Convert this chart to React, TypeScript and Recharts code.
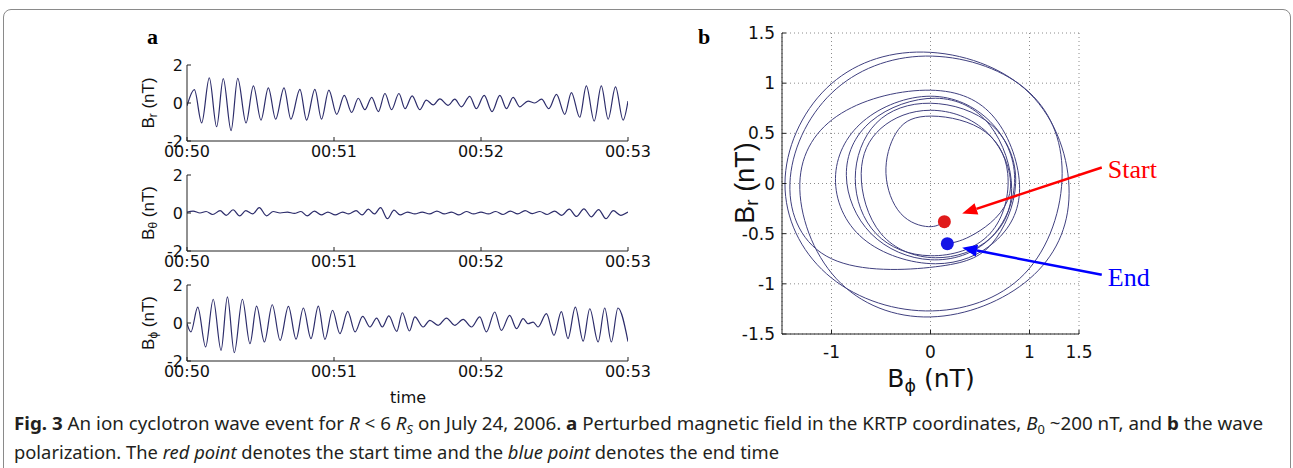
import React from "react";
import {
  LineChart,
  Line,
  XAxis,
  YAxis,
  CartesianGrid,
  ReferenceLine,
  ReferenceDot,
} from "recharts";

// panel a: wave extrema, seconds after 00:50
const brTime = [0, 3.0, 6.0, 9.1, 12.1, 14.8, 18.0, 20.7, 24.1, 27.1, 30.2, 33.2, 36.2, 39.6, 42.4, 46.1, 48.8, 52.2, 54.9, 57.9, 61.1, 64.2, 67.2, 69.9, 72.6, 75.4, 78.1, 80.8, 83.5, 86.5, 89.0, 91.9, 95.0, 97.7, 100.5, 103.2, 106.6, 109.3, 112.0, 115.4, 118.1, 121.3, 124.5, 127.7, 130.4, 133.1, 135.8, 139.2, 141.9, 144.7, 147.7, 150.8, 154.2, 156.9, 160.3, 163.0, 166.2, 169.1, 171.9, 174.9, 178.0, 180];
const brValue = [-0.15, 0.7, -1.05, 1.32, -1.25, 1.28, -1.45, 1.3, -1.05, 0.9, -0.9, 0.8, -0.85, 0.8, -0.85, 0.72, -0.9, 0.72, -0.85, 0.68, -0.6, 0.4, -0.5, 0.25, -0.35, 0.3, -0.45, 0.5, -0.35, 0.5, -0.3, 0.38, -0.35, 0.15, -0.1, 0.22, -0.12, 0.2, -0.2, 0.35, -0.3, 0.4, -0.45, 0.4, -0.3, 0.3, -0.2, 0.1, 0.0, 0.2, -0.3, 0.45, -0.6, 0.55, -0.75, 0.9, -0.95, 0.9, -0.85, 0.85, -0.9, 0.1];

const bthTime = [0, 2.5, 5.3, 7.8, 10.5, 13.5, 16.0, 18.8, 21.5, 24.0, 26.8, 29.5, 32.5, 35.2, 38.0, 41.0, 43.8, 46.5, 49.0, 52.0, 54.8, 57.5, 60.5, 63.5, 66.0, 69.0, 71.5, 74.0, 76.5, 79.0, 81.8, 84.5, 87.0, 90, 93, 96, 99, 102, 105, 108, 111, 114, 117, 120, 123, 126, 129, 132, 135, 138, 141, 144, 147, 150, 153, 156, 159, 162, 165, 168, 171, 174, 177, 180];
const bthValue = [0.05, 0.1, 0.0, 0.08, -0.08, 0.12, -0.12, 0.17, -0.15, 0.12, -0.05, 0.28, -0.15, 0.08, 0.0, 0.05, -0.02, 0.08, -0.15, 0.1, -0.1, 0.05, -0.1, 0.05, -0.05, 0.12, -0.1, 0.2, -0.05, 0.28, -0.3, 0.15, -0.1, 0.05, -0.05, 0.05, -0.05, 0.1, -0.05, 0.05, -0.1, 0.08, -0.05, 0.05, -0.05, 0.08, -0.08, 0.1, -0.05, 0.12, -0.03, 0.08, -0.08, 0.1, -0.12, 0.2, -0.18, 0.22, -0.2, 0.18, -0.3, 0.12, -0.12, 0.05];

const bphTime = [0, 1.6, 4.4, 7.6, 10.7, 13.9, 16.5, 19.3, 22.6, 25.7, 28.4, 31.6, 34.8, 38.0, 41.4, 44.5, 47.5, 50.6, 53.6, 56.3, 59.4, 62.4, 65.6, 68.6, 71.7, 74.7, 77.4, 79.7, 82.4, 85.6, 87.9, 90.8, 93.0, 96.4, 99.1, 102.5, 105.9, 109.3, 112.7, 116.1, 119.5, 122.2, 125.6, 128.3, 131.7, 134.5, 137.2, 139.2, 141.3, 143.3, 146.7, 149.8, 152.8, 155.5, 158.5, 161.7, 164.4, 167.8, 170.5, 173.2, 175.9, 180];
const bphValue = [-0.03, -0.47, 0.84, -1.26, 1.25, -1.44, 1.37, -1.56, 1.25, -1.09, 0.89, -1.0, 0.96, -0.91, 0.88, -0.85, 0.79, -0.82, 0.89, -0.86, 0.67, -0.56, 0.61, -0.47, 0.35, -0.21, 0.26, -0.21, 0.37, -0.44, 0.54, -0.42, 0.32, -0.21, 0.14, -0.12, 0.26, -0.12, 0.19, -0.21, 0.32, -0.47, 0.58, -0.39, 0.4, -0.3, 0.23, -0.04, 0.05, -0.21, 0.49, -0.65, 0.6, -0.82, 0.84, -0.95, 0.75, -1.0, 0.79, -1.0, 0.79, -0.98];

const timeTicks = [0, 60, 120, 180];
const timeTickLabels = ["00:50", "00:51", "00:52", "00:53"];
const fieldTicks = [-2, 0, 2];

// panel b: hodogram path (B_phi, B_r), clockwise from the start point
const hodoPhi = [
  0.14, -0.02, -0.3, -0.45, -0.35, -0.05, 0.5, 0.78, 0.6, 0.0,
  -0.55, -0.76, -0.55, 0.0, 0.62, 0.86, 0.62, 0.05,
  -1.0, -1.42, -1.0, -0.05, 0.95, 1.33, 0.95, -0.05,
  -1.05, -1.47, -1.05, -0.07, 1.0, 1.4, 1.0, 0.0,
  -0.95, -1.32, -0.9, 0.0, 0.65, 0.9, 0.65, 0.05,
  -0.68, -0.96, -0.68, 0.0, 0.6, 0.85, 0.6, 0.0,
  -0.6, -0.85, -0.6, 0.05, 0.6, 0.82, 0.6, 0.05,
  -0.5, -0.7, -0.5, 0.0, 0.58, 0.8, 0.45, 0.17,
];
const hodoR = [
  -0.38, -0.43, -0.3, 0.1, 0.5, 0.67, 0.55, 0.1, -0.5, -0.72,
  -0.5, 0.05, 0.6, 0.8, 0.58, 0.0, -0.6, -0.83,
  -0.75, 0.0, 0.9, 1.27, 0.95, 0.1, -0.9, -1.27,
  -0.9, 0.0, 0.95, 1.31, 0.9, -0.1, -0.95, -1.33,
  -0.95, 0.0, 0.7, 0.93, 0.65, -0.05, -0.58, -0.8,
  -0.55, 0.05, 0.62, 0.87, 0.62, 0.05, -0.55, -0.76,
  -0.5, 0.08, 0.62, 0.85, 0.58, -0.05, -0.55, -0.74,
  -0.5, 0.1, 0.55, 0.73, 0.5, -0.1, -0.5, -0.6,
];
const startPoint = { phi: 0.14, r: -0.38 };
const endPoint = { phi: 0.17, r: -0.6 };
const startArrow = [{ x: 1.73, y: 0.16 }, { x: 0.32, y: -0.3 }];
const endArrow = [{ x: 1.73, y: -0.91 }, { x: 0.32, y: -0.64 }];
const hodoTicksX = [-1, 0, 1, 1.5];
const hodoTicksY = [-1.5, -1, -0.5, 0, 0.5, 1, 1.5];

const WAVE = "#2d2d6b";
const AXIS = "#222";
const SANS = "'DejaVu Sans', sans-serif";

const fmtTime = (v: number) => timeTickLabels[timeTicks.indexOf(v)] ?? "";

function WavePanel({ times, values, top }: { times: number[]; values: number[]; top: number }) {
  const data = times.map((t, i) => ({ t, v: values[i] }));
  const tickStyle = { fill: "#111", fontSize: 16, fontFamily: SANS };
  return (
    <div style={{ position: "absolute", left: 0, top: top - 10 }}>
      <LineChart width={670} height={116} data={data} margin={{ top: 10, right: 42, bottom: 0, left: 0 }}>
        <XAxis
          dataKey="t"
          type="number"
          domain={[0, 180]}
          ticks={timeTicks}
          tickFormatter={fmtTime}
          height={30}
          stroke={AXIS}
          tick={tickStyle}
          tickSize={-4}
          tickMargin={9}
          allowDataOverflow
        />
        <XAxis xAxisId="top" orientation="top" type="number" domain={[0, 180]} ticks={timeTicks} tick={false} height={0} tickSize={-4} stroke={AXIS} />
        <YAxis
          type="number"
          domain={[-2, 2]}
          ticks={fieldTicks}
          width={187}
          stroke={AXIS}
          tick={tickStyle}
          tickSize={-4}
          tickMargin={8}
          allowDataOverflow
        />
        <YAxis yAxisId="right" orientation="right" type="number" domain={[-2, 2]} ticks={fieldTicks} tick={false} width={0} tickSize={-4} stroke={AXIS} />
        <Line dataKey="v" type="monotone" stroke={WAVE} strokeWidth={1.2} dot={false} isAnimationActive={false} />
      </LineChart>
    </div>
  );
}

const arrowShape = (color: string, text: string) => (p: any) => {
  const { x1, y1, x2, y2 } = p;
  const ang = Math.atan2(y2 - y1, x2 - x1);
  const len = 15;
  const half = 6;
  const bx = x2 - len * Math.cos(ang);
  const by = y2 - len * Math.sin(ang);
  const px = -Math.sin(ang) * half;
  const py = Math.cos(ang) * half;
  return (
    <g>
      <line x1={x1} y1={y1} x2={bx} y2={by} stroke={color} strokeWidth={2.5} />
      <polygon points={`${x2},${y2} ${bx + px},${by + py} ${bx - px},${by - py}`} fill={color} />
      <text x={x1 + 6} y={y1 + 11} fill={color} fontFamily="'Liberation Serif', serif" fontSize={26}>
        {text}
      </text>
    </g>
  );
};

function Rotated({ x, y, size, family, children }: any) {
  return (
    <div
      style={{
        position: "absolute",
        left: x,
        top: y,
        transform: "translate(-50%, -50%) rotate(-90deg)",
        whiteSpace: "nowrap",
        fontSize: size,
        fontFamily: family,
        color: "#111",
        lineHeight: 1,
      }}
    >
      {children}
    </div>
  );
}

const sub = (s: string) => <sub style={{ fontSize: "0.7em", verticalAlign: "-0.25em" }}>{s}</sub>;

export default function App() {
  const hodo = hodoPhi.map((x, i) => ({ x, y: hodoR[i] }));
  const bTick = { fill: "#111", fontSize: 17, fontFamily: SANS };
  return (
    <div style={{ position: "relative", width: 1293, height: 468, overflow: "hidden", background: "#fff" }}>
      <style>{`body{margin:0}`}</style>
      <div style={{ position: "absolute", left: 3, top: 9, width: 1286, height: 480, border: "1px solid #8a8a8a", borderRadius: 8 }} />

      <div style={{ position: "absolute", left: 147, top: 24, fontFamily: "'Liberation Serif', serif", fontWeight: 700, fontSize: 22 }}>a</div>
      <div style={{ position: "absolute", left: 698, top: 24, fontFamily: "'Liberation Serif', serif", fontWeight: 700, fontSize: 22 }}>b</div>

      <WavePanel times={brTime} values={brValue} top={65} />
      <WavePanel times={bthTime} values={bthValue} top={175} />
      <WavePanel times={bphTime} values={bphValue} top={285} />

      <Rotated x={150} y={103} size={17} family="'Liberation Sans', sans-serif">B{sub("r")} (nT)</Rotated>
      <Rotated x={150} y={213} size={17} family="'Liberation Sans', sans-serif">B{sub("θ")} (nT)</Rotated>
      <Rotated x={150} y={323} size={17} family="'Liberation Sans', sans-serif">B{sub("ϕ")} (nT)</Rotated>
      <div style={{ position: "absolute", left: 408, top: 397, transform: "translate(-50%, -50%)", fontFamily: SANS, fontSize: 16, color: "#111" }}>time</div>

      <div style={{ position: "absolute", left: 690, top: 0 }}>
        <LineChart width={603} height={394} data={hodo} margin={{ top: 33, right: 214, bottom: 0, left: 0 }}>
          <CartesianGrid stroke="#8c8c8c" strokeDasharray="1 3" />
          <XAxis
            dataKey="x"
            type="number"
            domain={[-1.5, 1.5]}
            ticks={hodoTicksX}
            height={60}
            stroke={AXIS}
            tick={bTick}
            tickSize={-4}
            tickMargin={16}
            allowDataOverflow
          />
          <XAxis xAxisId="top" orientation="top" type="number" domain={[-1.5, 1.5]} ticks={hodoTicksX} tick={false} height={0} tickSize={-4} stroke={AXIS} />
          <YAxis
            type="number"
            domain={[-1.5, 1.5]}
            ticks={hodoTicksY}
            width={92}
            stroke={AXIS}
            tick={bTick}
            tickSize={-4}
            tickMargin={11}
            allowDataOverflow
          />
          <YAxis yAxisId="right" orientation="right" type="number" domain={[-1.5, 1.5]} ticks={hodoTicksY} tick={false} width={0} tickSize={-4} stroke={AXIS} />
          <Line dataKey="y" type="natural" stroke="#40407f" strokeWidth={1} dot={false} isAnimationActive={false} />
          <ReferenceDot x={startPoint.phi} y={startPoint.r} r={6.5} fill="#e01b1b" stroke="none" />
          <ReferenceDot x={endPoint.phi} y={endPoint.r} r={6.5} fill="#1616e6" stroke="none" />
          <ReferenceLine segment={startArrow} ifOverflow="visible" shape={arrowShape("#ff0000", "Start")} />
          <ReferenceLine segment={endArrow} ifOverflow="visible" shape={arrowShape("#0000ff", "End")} />
        </LineChart>
      </div>

      <Rotated x={747} y={183} size={27} family="'Liberation Sans', sans-serif">B{sub("r")} (nT)</Rotated>
      <div style={{ position: "absolute", left: 931, top: 380, transform: "translate(-50%, -50%)", fontFamily: SANS, fontSize: 25, color: "#111", whiteSpace: "nowrap" }}>
        B{sub("ϕ")} (nT)
      </div>

      <svg width={1293} height={68} style={{ position: "absolute", left: 0, top: 400 }}>
        <g fontFamily="'Noto Sans', sans-serif" fontSize={17.5} fill="#231f20" style={{ whiteSpace: "pre" }}>
          <text x={14} y={30} textLength={1249} lengthAdjust="spacingAndGlyphs">
            <tspan fontWeight={700}>Fig. 3</tspan>
            {"  An ion cyclotron wave event for "}
            <tspan fontStyle="italic">R</tspan>
            {" < 6 "}
            <tspan fontStyle="italic">R</tspan>
            <tspan fontStyle="italic" fontSize={12} dy={4}>S</tspan>
            <tspan dy={-4}>{" on July 24, 2006. "}</tspan>
            <tspan fontWeight={700}>a</tspan>
            {" Perturbed magnetic field in the KRTP coordinates, "}
            <tspan fontStyle="italic">B</tspan>
            <tspan fontSize={12} dy={4}>0</tspan>
            <tspan dy={-4}>{" ~200 nT, and "}</tspan>
            <tspan fontWeight={700}>b</tspan>
            {" the wave"}
          </text>
          <text x={14} y={59} textLength={765} lengthAdjust="spacingAndGlyphs">
            {"polarization. The "}
            <tspan fontStyle="italic">red point</tspan>
            {" denotes the start time and the "}
            <tspan fontStyle="italic">blue point</tspan>
            {" denotes the end time"}
          </text>
        </g>
      </svg>
    </div>
  );
}
